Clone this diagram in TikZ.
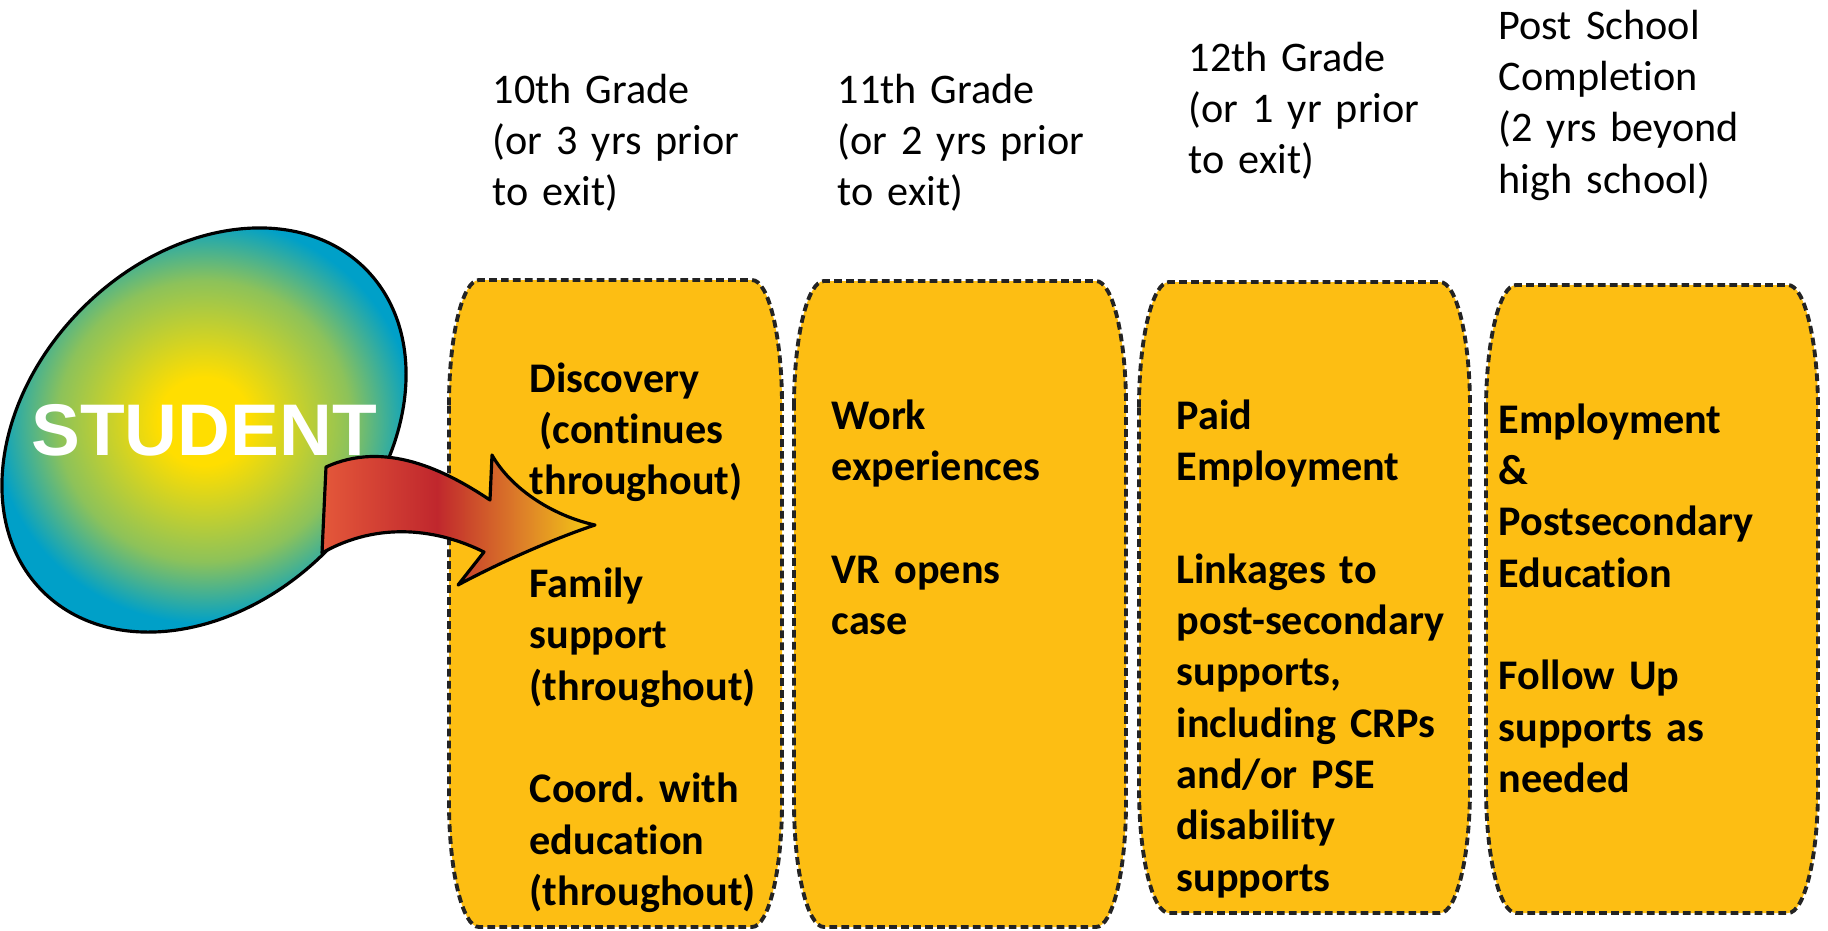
\documentclass[tikz,border=0pt]{standalone}
\usepackage{fontspec}
\setmainfont{Carlito}[Ligatures=NoCommon]
\newfontfamily\studentfont{Liberation Sans}
\usetikzlibrary{shapes.geometric}

\definecolor{stagefill}{RGB}{253,190,19}
\definecolor{stageline}{RGB}{35,35,35}
\definecolor{sunyellow}{RGB}{255,222,0}
\definecolor{skyblue}{RGB}{0,160,200}
\colorlet{studentmid}{sunyellow!55!skyblue}
\definecolor{arroworange}{RGB}{228,88,58}
\definecolor{arrowred}{RGB}{192,39,45}
\definecolor{arrowamber}{RGB}{222,130,40}
\definecolor{arrowgold}{RGB}{245,205,20}

\pgfdeclareradialshading{studentshade}{\pgfpoint{0bp}{0bp}}{color(0bp)=(sunyellow); color(5bp)=(sunyellow); color(16bp)=(studentmid); color(23bp)=(skyblue); color(50bp)=(skyblue)}
\pgfdeclarehorizontalshading{arrowshade}{100bp}{color(0bp)=(arroworange); color(25bp)=(arroworange); color(46bp)=(arrowred); color(62bp)=(arrowamber); color(75bp)=(arrowgold); color(100bp)=(arrowgold)}

% header lines sit a little tighter than the box text
\newcommand\gradesize{\fontsize{12}{14.6}\selectfont\spaceskip=0.16em plus 0.05em\relax}

\tikzset{
  stagebox/.style={fill=stagefill, draw=stageline, line width=1.1pt, dash pattern=on 2.2pt off 1.2pt},
  gradetext/.style={anchor=base west, inner sep=0, text width=6cm, align=left, font=\gradesize},
  stagetext/.style={gradetext, font=\bfseries\fontsize{12}{14.6}\selectfont\frenchspacing},
  studentblob/.style={ellipse, draw=black, line width=0.9pt, inner sep=0, minimum width=4.56cm, minimum height=3.44cm, rotate=45, shading=studentshade}
}

% left, top, right, bottom
\newcommand\stageoutline[4]{%
  \filldraw[stagebox] (#1,#2+125) arc[start angle=180, end angle=270, x radius=30, y radius=125]
    -- (#3-30,#2) arc[start angle=270, end angle=360, x radius=30, y radius=125]
    -- (#3,#4-125) arc[start angle=0, end angle=90, x radius=30, y radius=125]
    -- (#1+30,#4) arc[start angle=90, end angle=180, x radius=30, y radius=125] -- cycle;}

\begin{document}
\begin{tikzpicture}[x=0.01cm, y=-0.01cm]
\useasboundingbox (0,0) rectangle (1828,930);

\stageoutline{449}{280}{782}{927}
\stageoutline{794}{281}{1126}{927}
\stageoutline{1139}{282}{1470}{913}
\stageoutline{1486}{285}{1818}{913}

\node[studentblob] (student) at (204,430) {};
\node[text=white, font=\studentfont\bfseries\fontsize{20.8}{24}\selectfont] (studentlabel) at (student.center) {STUDENT};

% curved arrow into the first stage
\shade[shading=arrowshade, draw=black, line width=0.9pt, line join=round]
  (326,467) .. controls (385,440) and (445,470) .. (490,500)
  -- (492,455)
  .. controls (510,487) and (550,515) .. (595,525)
  .. controls (550,540) and (495,565) .. (458,585)
  -- (484,552)
  .. controls (440,530) and (380,520) .. (322,553) -- cycle;

\node[gradetext] (grade10) at (492,103) {10th Grade\\(or 3 yrs prior\\to exit)};
\node[gradetext] (grade11) at (837,103) {11th Grade\\(or 2 yrs prior\\to exit)};
\node[gradetext] (grade12) at (1188,71) {12th Grade\\(or 1 yr prior\\to exit)};
\node[gradetext] (postschool) at (1498,39) {Post School\\Completion\\(2 yrs beyond\\high school)};

\node[stagetext] (tasks10) at (529,392) {Discovery\\\hspace*{.23em}(continues\\throughout)\\[\baselineskip]Family\\support\\(throughout)\\[\baselineskip]Coord. with\\education\\(throughout)};
\node[stagetext] (tasks11) at (831,429) {Work\\experiences\\[\baselineskip]VR opens\\case};
\node[stagetext] (tasks12) at (1176,429) {Paid\\Employment\\[\baselineskip]Linkages to\\post-secondary\\supports,\\including CRPs\\and/or PSE\\disability\\supports};
\node[stagetext] (taskspost) at (1498,433) {Employment\\\&\\Postsecondary\\Education\\[\baselineskip]Follow Up\\supports as\\needed};
\end{tikzpicture}
\end{document}
